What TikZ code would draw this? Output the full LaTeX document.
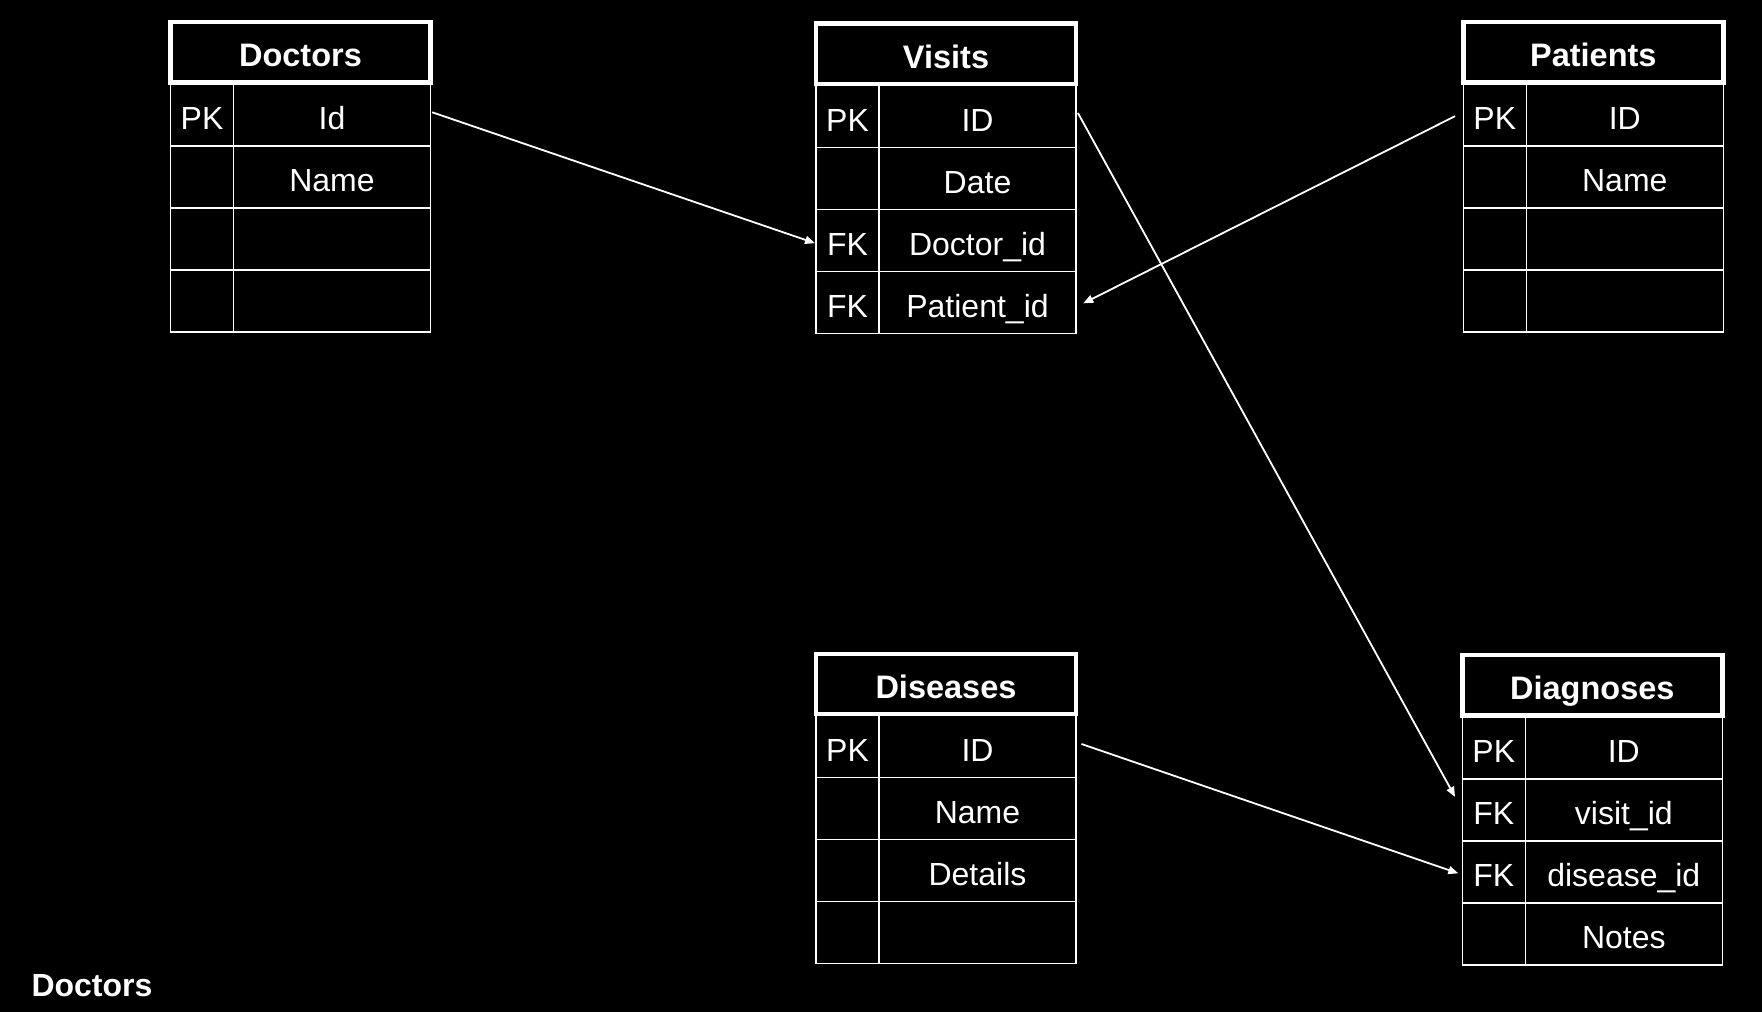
\documentclass[tikz,border=0pt]{standalone}
\usepackage{fontspec}
\setmainfont{Liberation Sans}
\usetikzlibrary{arrows.meta,positioning}

\begin{document}
\begin{tikzpicture}[x=1pt, y=-1pt, color=white,
  titlebox/.style={draw, line width=4.4pt, anchor=north west, outer sep=0pt, inner sep=0pt,
    minimum width=260pt, minimum height=60.5pt, text height=28.5pt, text depth=0pt,
    font=\fontsize{32.5}{35}\selectfont\bfseries},
  cell/.style={draw, line width=1.3pt, anchor=north west, outer sep=0pt, inner sep=0pt,
    minimum height=62pt, text height=29pt, text depth=0pt, font=\fontsize{32}{36}\selectfont},
  keycell/.style={cell, minimum width=63pt},
  valcell/.style={cell, minimum width=197pt},
  fk/.style={line width=1.8pt, -{Triangle[length=10pt,width=8pt]}}]
\fill[black] (0,0) rectangle (1762,1012);

% Doctors
\node[titlebox] (doc) at (170.5,22) {Doctors};
\foreach \k/\v [count=\i] in {PK/Id, /Name, /, /}
{
	\node[keycell] (doc-k\i) at (170.5, 22+62*\i) {\k};
	\node[valcell] (doc-\i) at (doc-k\i.north east) {\v};
}

% Visits
\node[titlebox] (vis) at (816,23.5) {Visits};
\foreach \k/\v [count=\i] in {PK/ID, /Date, FK/Doctor\_id, FK/Patient\_id}
{
	\node[keycell] (vis-k\i) at (816, 23.5+62*\i) {\k};
	\node[valcell] (vis-\i) at (vis-k\i.north east) {\v};
}

% Patients
\node[titlebox] (pat) at (1463.3,22) {Patients};
\foreach \k/\v [count=\i] in {PK/ID, /Name, /, /}
{
	\node[keycell] (pat-k\i) at (1463.3, 22+62*\i) {\k};
	\node[valcell] (pat-\i) at (pat-k\i.north east) {\v};
}

% Diseases
\node[titlebox] (dis) at (816,653.7) {Diseases};
\foreach \k/\v [count=\i] in {PK/ID, /Name, /Details, /}
{
	\node[keycell] (dis-k\i) at (816, 653.7+62*\i) {\k};
	\node[valcell] (dis-\i) at (dis-k\i.north east) {\v};
}

% Diagnoses
\node[titlebox] (dia) at (1462.3,655) {Diagnoses};
\foreach \k/\v [count=\i] in {PK/ID, FK/visit\_id, FK/disease\_id, /Notes}
{
	\node[keycell] (dia-k\i) at (1462.3, 655+62*\i) {\k};
	\node[valcell] (dia-\i) at (dia-k\i.north east) {\v};
}

% foreign keys
\draw[fk, shorten <=1.8pt, shorten >=1pt] ([yshift=3.3pt]doc-1.east) -- ([yshift=-3pt]vis-k3.west);
\draw[fk, shorten <=9.3pt, shorten >=8.1pt] ([yshift=3pt]pat-k1.west) -- ([yshift=-4.5pt]vis-4.east);
\draw[fk, shorten <=4pt, shorten >=15pt] ([yshift=7pt]vis-1.east) -- (dia-k2.west);
\draw[fk, shorten <=5.8pt, shorten >=4.2pt] ([yshift=4.6pt]dis-1.east) -- ([yshift=-2.7pt]dia-k3.west);

\node[anchor=base west, font=\fontsize{32}{35}\selectfont\bfseries] (caption) at (28,996.7) {Doctors};
\end{tikzpicture}
\end{document}
